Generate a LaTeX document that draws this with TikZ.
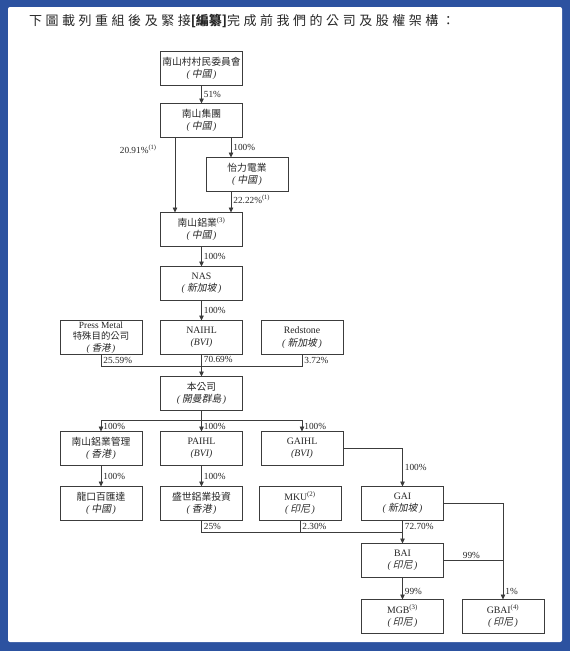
\documentclass[tikz,border=0pt]{standalone}
\usepackage{fontspec}
\setmainfont{Liberation Serif}
\newfontfamily\zh{Noto Sans CJK TC}
\newfontfamily\zhit{Noto Sans CJK TC}[FakeSlant=0.2]
\newfontfamily\zhtitle{Noto Sans CJK TC}[LetterSpace=27]
\usetikzlibrary{positioning,arrows.meta}
\definecolor{framecol}{HTML}{2C52A0}
\definecolor{inkcol}{HTML}{262626}
\definecolor{linecol}{HTML}{3C3C3C}
\newcommand\loc[1]{\textit{(}{\zhit\,#1\,}\textit{)}}
\newcommand\fn[1]{\textsuperscript{(#1)}}

\begin{document}
\begin{tikzpicture}[x=1pt, y=-1pt,
  entity/.style={draw=linecol, line width=0.75pt, minimum width=82pt, minimum height=34pt, inner sep=0pt, outer sep=0pt, align=center, text=inkcol, font=\fontsize{9.8}{12.5}\selectfont},
  pct/.style={font=\fontsize{9.3}{10}\selectfont, text=inkcol, inner sep=2pt},
  arr/.style={-{Triangle[length=5pt,width=4.5pt]}, draw=linecol, line width=0.75pt},
  link/.style={draw=linecol, line width=0.75pt}
]
% frame
\fill[framecol] (0,0) rectangle (570,651);
\fill[white, rounded corners=2pt] (8,7) rectangle (562,642);
\useasboundingbox (0,0) rectangle (570,651);
\node[anchor=west, text=inkcol, font=\fontsize{13}{15}\selectfont, inner sep=0pt] (title) at (29,21)
  {{\zhtitle 下圖載列重組後及緊接}{\zh\bfseries [編纂]}{\zhtitle 完成前我們的公司及股權架構：}};

% holders above the company
\node[entity] (village) at (201.5,68.5) {{\zh 南山村村民委員會}\\\loc{中國}};
\node[entity, below=18pt of village] (group) {{\zh 南山集團}\\\loc{中國}};
\node[entity, below=20pt of group, xshift=45.5pt] (lili) {{\zh 怡力電業}\\\loc{中國}};
\node[entity, below=75pt of group] (nsal) {{\zh 南山鋁業}\fn{3}\\\loc{中國}};
\node[entity, below=20pt of nsal] (nas) {NAS\\\loc{新加坡}};
\node[entity, below=20pt of nas] (naihl) {NAIHL\\\textit{(BVI)}};
\node[entity, left=18.5pt of naihl, font=\fontsize{9.4}{11.5}\selectfont] (press) {Press Metal\\{\zh 特殊目的公司}\\\loc{香港}};
\node[entity, right=18.5pt of naihl] (red) {Redstone\\\loc{新加坡}};
\node[entity, below=22pt of naihl] (company) {{\zh 本公司}\\\loc{開曼群島}};

% subsidiaries
\node[entity, below=21pt of company] (paihl) {PAIHL\\\textit{(BVI)}};
\node[entity, left=18.5pt of paihl] (nsmgmt) {{\zh 南山鋁業管理}\\\loc{香港}};
\node[entity, right=18.5pt of paihl] (gaihl) {GAIHL\\\textit{(BVI)}};
\node[entity, below=21pt of paihl] (shengshi) {{\zh 盛世鋁業投資}\\\loc{香港}};
\node[entity, left=18.5pt of shengshi] (longkou) {{\zh 龍口百匯達}\\\loc{中國}};
\node[entity, right=16.5pt of shengshi] (mku) {MKU\fn{2}\\\loc{印尼}};
\node[entity, right=20.5pt of mku] (gai) {GAI\\\loc{新加坡}};
\node[entity, below=23pt of gai] (bai) {BAI\\\loc{印尼}};
\node[entity, below=22pt of bai] (mgb) {MGB\fn{3}\\\loc{印尼}};
\node[entity, right=18.5pt of mgb] (gbai) {GBAI\fn{4}\\\loc{印尼}};

% ownership lines
\draw[arr] (village) -- node[pct, right] {51\%} (group);
\draw[arr] ([xshift=-26.5pt]group.south) -- node[pct, left=16pt, pos=0.16] {20.91\%\fn{1}} ([xshift=-26.5pt]nsal.north);
\draw[arr] ([xshift=-16pt]lili.north |- group.south) -- node[pct, right] {100\%} ([xshift=-16pt]lili.north);
\draw[arr] ([xshift=-16pt]lili.south) -- node[pct, right, pos=0.38] {22.22\%\fn{1}} ([xshift=-16pt]lili.south |- nsal.north);
\draw[arr] (nsal) -- node[pct, right] {100\%} (nas);
\draw[arr] (nas) -- node[pct, right] {100\%} (naihl);

\coordinate[below=12pt of naihl] (pool);
\draw[link] (press.south) |- node[pct, right, pos=0.25] {25.59\%} (pool) -| node[pct, right, pos=0.75] {3.72\%} (red.south);
\draw[arr] (naihl) -- node[pct, right, pos=0.23] {70.69\%} (company);

\coordinate[below=10pt of company] (fan);
\draw[link] (company) -- (fan);
\draw[arr] (fan) -| node[pct, right, pos=0.75] {100\%} (nsmgmt.north);
\draw[arr] (fan) -- node[pct, right] {100\%} (paihl);
\draw[arr] (fan) -| node[pct, right, pos=0.75] {100\%} (gaihl.north);
\draw[arr] (nsmgmt) -- node[pct, right] {100\%} (longkou);
\draw[arr] (paihl) -- node[pct, right] {100\%} (shengshi);
\draw[arr] (gaihl.east) -| node[pct, right, pos=0.75] {100\%} (gai.north);

\coordinate[below=12pt of gai] (pool2);
\draw[link] (shengshi.south) |- node[pct, right, pos=0.25] {25\%} (pool2);
\draw[link] (mku.south) -- node[pct, right] {2.30\%} (mku.south |- pool2);
\draw[arr] (gai) -- node[pct, right, pos=0.26] {72.70\%} (bai);
\draw[arr] (gai.east) -| node[pct, right, pos=0.96] {1\%} (gbai.north);
\draw[link] (bai.east) -- node[pct, above, pos=0.47] {99\%} (bai.east -| gbai.north);
\draw[arr] (bai) -- node[pct, right, pos=0.64] {99\%} (mgb);
\end{tikzpicture}
\end{document}
